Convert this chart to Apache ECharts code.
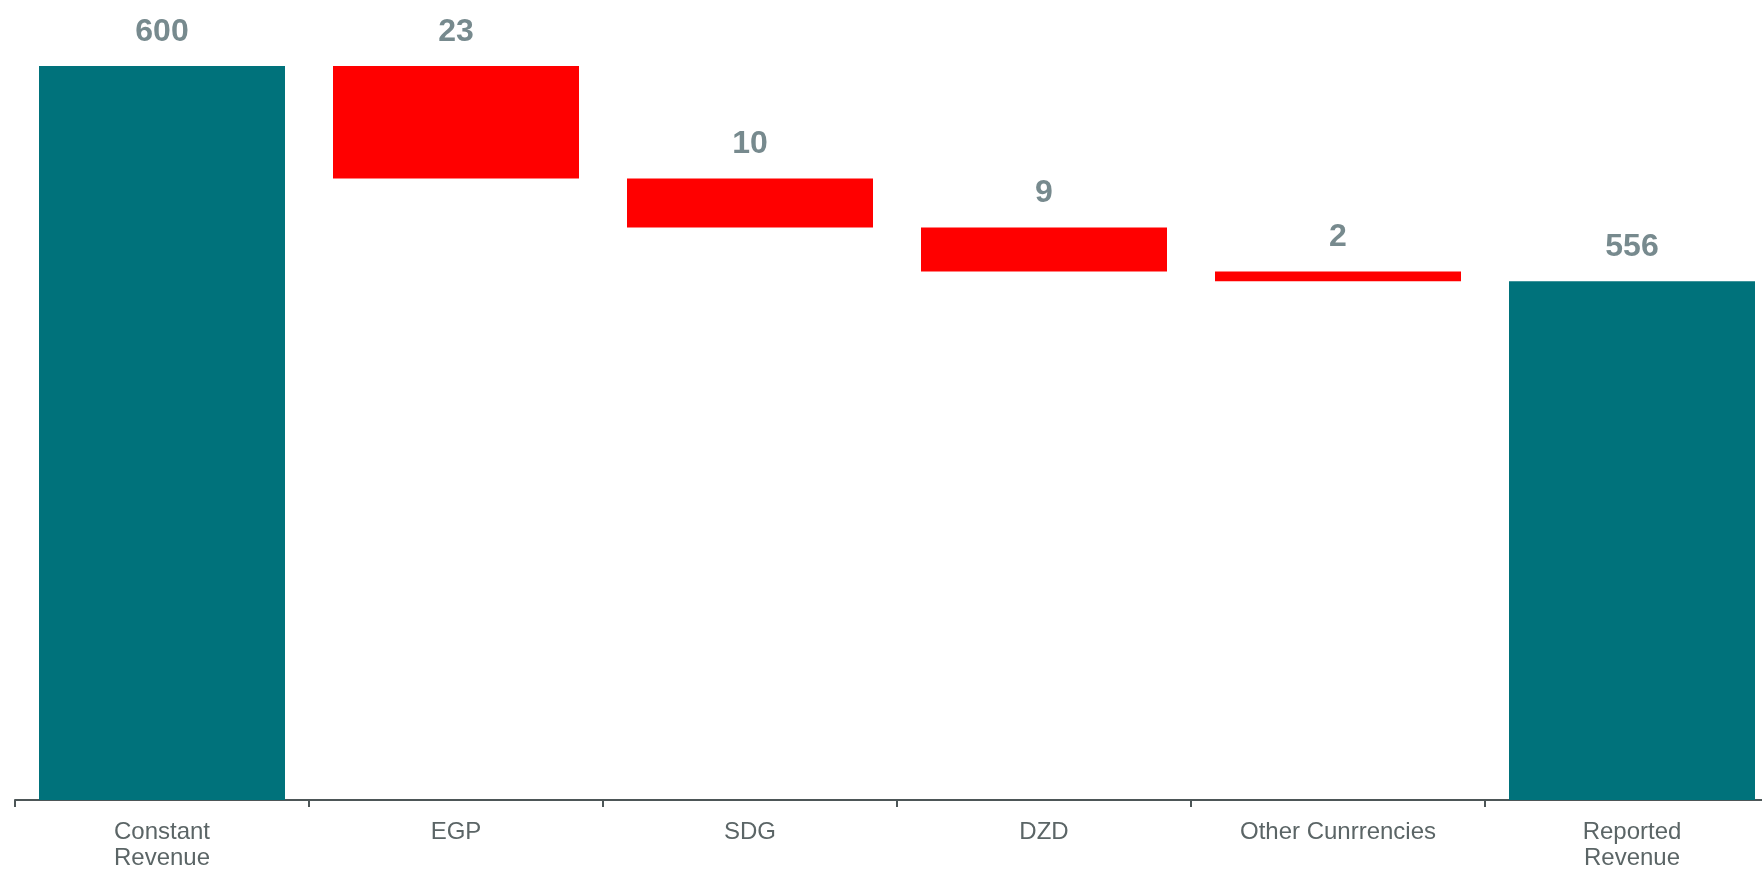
<!DOCTYPE html>
<html>
<head>
<meta charset="utf-8">
<script src="https://cdn.jsdelivr.net/npm/echarts@6/dist/echarts.min.js"></script>
<style>
html,body{margin:0;padding:0;background:#fff;}
#chart{width:1762px;height:870px;}
</style>
</head>
<body>
<div id="chart"></div>
<script>
var categories = ['Constant\nRevenue', 'EGP', 'SDG', 'DZD', 'Other Cunrrencies', 'Reported\nRevenue'];
var startTotal = 600;
var decreases = [23, 10, 9, 2];
var endTotal = 556;

var TEAL = '#00727b';
var RED = '#ff0000';

// build waterfall
var baseData = [0];
var visData = [{value: startTotal, itemStyle: {color: TEAL}}];
var labelVals = [startTotal];
var running = startTotal;
decreases.forEach(function (d) {
  running -= d;
  baseData.push(running);
  visData.push({value: d, itemStyle: {color: RED}});
  labelVals.push(d);
});
baseData.push(0);
visData.push({value: endTotal, itemStyle: {color: TEAL}});
labelVals.push(endTotal);

var chart = echarts.init(document.getElementById('chart'));
chart.setOption({
  animation: false,
  backgroundColor: '#ffffff',
  grid: {left: 15, right: -17, top: 66, bottom: 70, containLabel: false, outerBoundsMode: 'none'},
  xAxis: {
    type: 'category',
    data: categories,
    axisLine: {show: true, lineStyle: {color: '#4d5657', width: 2}},
    axisTick: {show: true, length: 7, lineStyle: {color: '#4d5657', width: 2}},
    axisLabel: {
      color: '#5b6566', fontSize: 24, lineHeight: 26, margin: 19,
      fontFamily: 'Arial, "Liberation Sans", sans-serif', interval: 0
    },
    splitLine: {show: false}
  },
  yAxis: {
    type: 'value', min: 450, max: 600, show: false,
    splitLine: {show: false}
  },
  series: [
    {
      type: 'bar', stack: 'wf', data: baseData, barWidth: 246,
      itemStyle: {color: 'rgba(0,0,0,0)'}, silent: true
    },
    {
      type: 'bar', stack: 'wf', data: visData, barWidth: 246,
      label: {
        show: true, position: 'top', distance: 18,
        fontSize: 32, fontWeight: 'bold', color: '#778a8e',
        fontFamily: 'Arial, "Liberation Sans", sans-serif',
        formatter: function (p) { return labelVals[p.dataIndex]; }
      }
    }
  ]
});
</script>
</body>
</html>
